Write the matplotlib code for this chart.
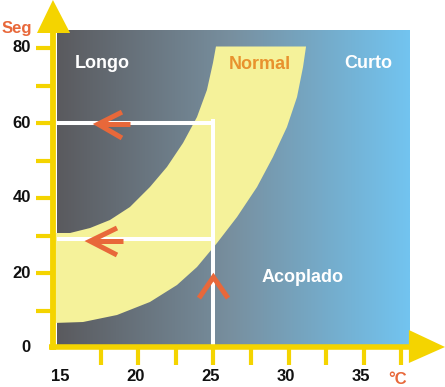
import numpy as np
import matplotlib.pyplot as plt
from matplotlib.colors import LinearSegmentedColormap
from matplotlib.patches import Polygon

plt.rcParams['font.family'] = ['Liberation Sans', 'DejaVu Sans']

# axis ticks / labels
x_ticks = [17.5, 20, 22.5, 25, 27.5, 30, 32.5, 35, 37.5]
x_labels = [15, 20, 25, 30, 35]
y_ticks = [10, 20, 30, 40, 50, 60, 70, 80]
y_labels = [0, 20, 40, 60, 80]

# "Normal" band (temperature, seconds)
outer_x = [14.4, 16.33, 18.59, 20.78, 22.58, 23.91, 25.24, 26.57, 27.90, 28.96, 29.89, 30.56, 30.96, 31.16]
outer_y = [6.67, 6.93, 8.8, 12.27, 16.8, 21.6, 28.0, 34.93, 42.93, 50.93, 58.93, 66.93, 74.93, 80.4]
inner_x = [25.17, 24.97, 24.57, 23.91, 22.98, 21.91, 20.78, 19.45, 18.12, 16.80, 15.47, 14.4]
inner_y = [80.4, 76.0, 68.8, 61.6, 54.67, 48.27, 42.93, 37.6, 34.13, 32.0, 30.67, 30.67]

# example reading: 25 degrees
guide_temp = 25
guide_times = [60, 29]

# orange arrows: (tip, arm1, arm2, shaft end)
arrows = [
    ((17.33, 59.7), (18.92, 62.9), (18.92, 56.0), (19.45, 59.7)),
    ((16.80, 28.5), (18.59, 32.0), (18.59, 24.8), (18.99, 28.5)),
    ((25.0, 18.9), (24.04, 13.3), (25.97, 13.3), None),
]

zones = [("Longo", 17.6, 74.7, "white"), ("Normal", 28.1, 74.5, "#e8922e"),
         ("Curto", 35.3, 74.7, "white"), ("Acoplado", 30.93, 17.6, "white")]

yellow = "#f4d400"
orange = "#e8683a"

fig = plt.figure(figsize=(4.45, 3.87), dpi=100)
ax = fig.add_axes([0, 0, 1, 1])
ax.set_xlim(10.81, 40.40)
ax.set_ylim(-10.4, 92.8)
ax.axis('off')

# gradient background
cmap = LinearSegmentedColormap.from_list("bg", ["#5a5a5e", "#7890a0", "#72c4f0"])
grad = np.linspace(0, 1, 256).reshape(1, -1)
ax.imshow(grad, cmap=cmap, extent=[14.6, 38.07, 0, 84.8], aspect='auto', zorder=1)

band = list(zip(outer_x, outer_y)) + list(zip(inner_x, inner_y))
ax.add_patch(Polygon(band, closed=True, facecolor="#f5f29a", edgecolor='none', zorder=2))

# white guide lines
for t in guide_times:
    ax.plot([14.6, guide_temp], [t, t], color='white', lw=2.9, solid_capstyle='butt', zorder=3)
ax.plot([guide_temp, guide_temp], [0, max(guide_times) + 0.5], color='white', lw=2.9,
        solid_capstyle='projecting', zorder=3)

# arrows
for tip, a1, a2, shaft in arrows:
    ax.plot([a1[0], tip[0], a2[0]], [a1[1], tip[1], a2[1]], color=orange, lw=3.6,
            solid_capstyle='butt', solid_joinstyle='miter', zorder=4)
    if shaft is not None:
        ax.plot([tip[0], shaft[0]], [tip[1], shaft[1]], color=orange, lw=3.6,
                solid_capstyle='butt', zorder=4)

# axes in yellow
ax.plot([14.33, 14.33], [-0.6, 84.0], color=yellow, lw=4.2, solid_capstyle='butt', zorder=5)
ax.plot([14.05, 38.0], [0.27, 0.27], color=yellow, lw=4.0, solid_capstyle='butt', zorder=5)
ax.add_patch(Polygon([(13.27, 84.0), (14.33, 92.8), (15.47, 84.0)], closed=True,
                     facecolor=yellow, edgecolor='none', zorder=5, clip_on=False))
ax.add_patch(Polygon([(38.0, 4.8), (40.40, 0.27), (38.0, -4.0)], closed=True,
                     facecolor=yellow, edgecolor='none', zorder=5, clip_on=False))
for t in x_ticks:
    ax.plot([t, t], [0, -4.4], color=yellow, lw=3.0, solid_capstyle='butt', zorder=5)
for t in y_ticks:
    ax.plot([13.2, 14.33], [t, t], color=yellow, lw=3.0, solid_capstyle='butt', zorder=5)

for v in x_labels:
    ax.text(v - 0.2, -7.7, str(v), ha='center', va='center', fontsize=12,
            fontweight='bold', color='#111111')
for v in y_labels:
    ax.text(12.87, v, str(v), ha='right', va='center', fontsize=12,
            fontweight='bold', color='#111111')

ax.text(11.94, 85.3, "Seg", ha='center', va='center', fontsize=12, fontweight='bold', color=orange)
ax.text(37.27, -8.3, "°C", ha='center', va='center', fontsize=12, fontweight='bold', color=orange)

for name, x, y, c in zones:
    ax.text(x, y, name, ha='center', va='baseline', fontsize=13, fontweight='bold',
            color=c, zorder=6)

fig.savefig("out.png", dpi=100)
